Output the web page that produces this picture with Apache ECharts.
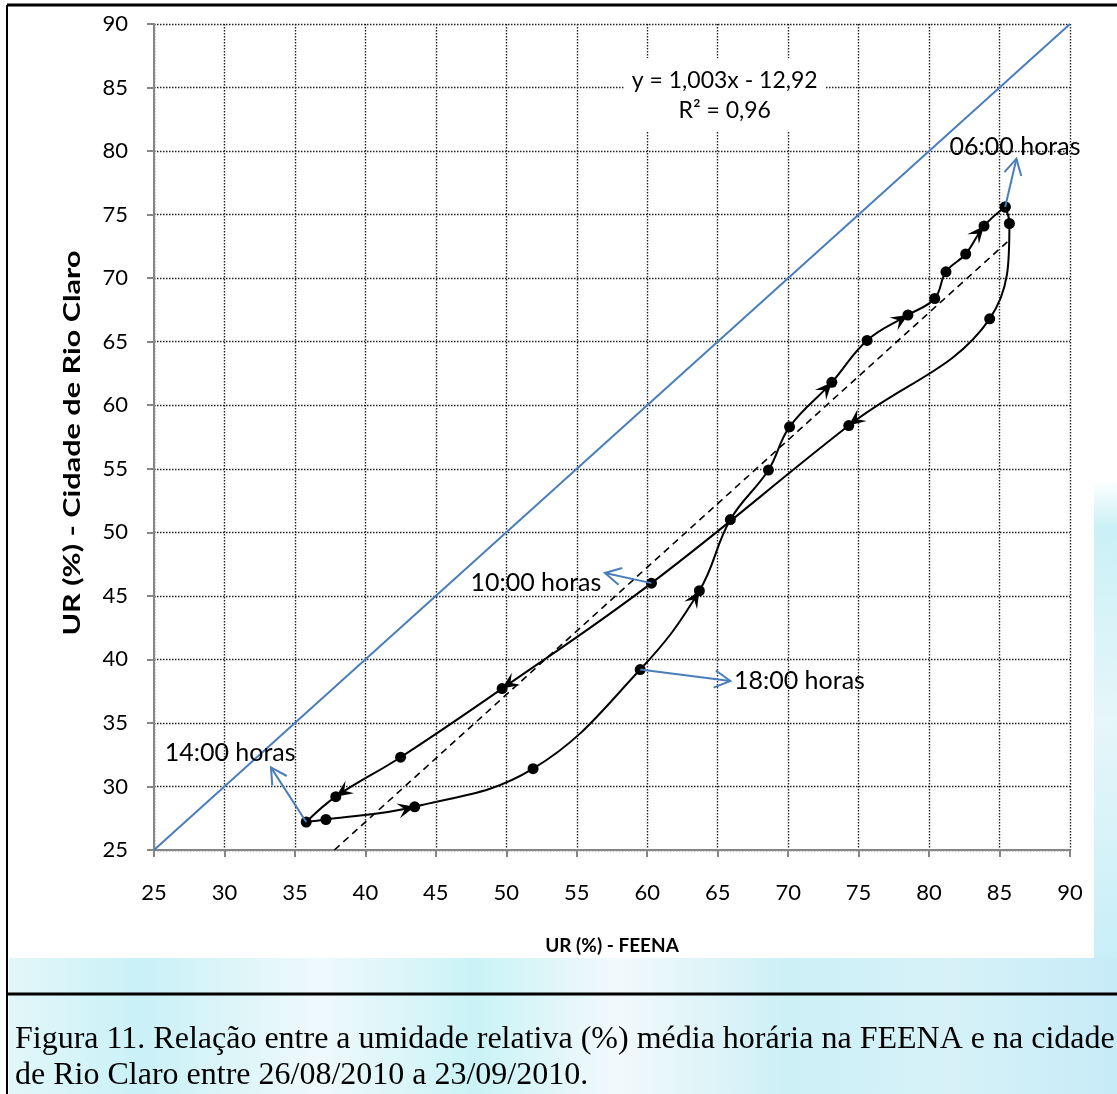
<!DOCTYPE html>
<html>
<head>
<meta charset="utf-8">
<script src="https://cdn.jsdelivr.net/npm/echarts@6/dist/echarts.min.js"></script>
<style>
  html, body { margin: 0; padding: 0; background: #fff; }
  #main { width: 1117px; height: 1094px; }
</style>
</head>
<body>
<div id="main"></div>
<script>
// medias horarias, comecando as 06:00
const hours = ['06:00', '07:00', '08:00', '09:00', '10:00', '11:00', '12:00', '13:00',
  '14:00', '15:00', '16:00', '17:00', '18:00', '19:00', '20:00', '21:00',
  '22:00', '23:00', '00:00', '01:00', '02:00', '03:00', '04:00', '05:00'];
const urFeena = [85.4, 85.7, 84.3, 74.3, 60.3, 49.7, 42.5, 37.9,
  35.8, 37.2, 43.5, 51.9, 59.5, 63.7, 65.9, 68.6,
  70.1, 73.1, 75.6, 78.5, 80.4, 81.2, 82.6, 83.9];
const urRioClaro = [75.6, 74.3, 66.8, 58.4, 46.0, 37.7, 32.3, 29.2,
  27.2, 27.4, 28.4, 31.4, 39.2, 45.4, 51.0, 54.9,
  58.3, 61.8, 65.1, 67.1, 68.4, 70.5, 71.9, 74.1];
// horas onde ha seta de sentido no traco
const arrowHours = ['09:00', '11:00', '13:00', '16:00', '19:00', '23:00', '01:00', '05:00'];
// linha 1:1 e linha de tendencia (y = 1,003x - 12,92)
const lineOneToOne = [[25, 25], [90, 90]];
const trendLine = [[37.8, 25.0], [85.8, 73.1]];
const trendText = 'y = 1,003x - 12,92\nR² = 0,96';
const axisMin = 25, axisMax = 90, axisStep = 5;

// rotulos das horas: posicao do texto e ponta da seta (coordenadas do grafico)
const notes = [
  { hour: '06:00', textX: 86.1, textY: 80.3, tipX: 86.2, tipY: 79.4 },
  { hour: '10:00', textX: 52.1, textY: 46.0, tipX: 57.0, tipY: 46.8 },
  { hour: '18:00', textX: 70.8, textY: 38.3, tipX: 65.9, tipY: 38.3 },
  { hour: '14:00', textX: 30.4, textY: 32.6, tipX: 33.3, tipY: 31.5 }
];

const blue = '#4a7ebb';
const font = 'Lato, "Open Sans", sans-serif';

let loopData = urFeena.map((x, i) => [x, urRioClaro[i]]);
loopData.push(loopData[0]); // fecha o ciclo

let chart = echarts.init(document.getElementById('main'));

function renderArrow(params, api) {
  let h = hours.indexOf(arrowHours[params.dataIndex]);
  let n = hours.length;
  let pa = api.coord([urFeena[(h - 1 + n) % n], urRioClaro[(h - 1 + n) % n]]);
  let pb = api.coord([urFeena[(h + 1) % n], urRioClaro[(h + 1) % n]]);
  let p = api.coord([urFeena[h], urRioClaro[h]]);
  let ang = Math.atan2(pb[1] - pa[1], pb[0] - pa[0]);
  let dx = Math.cos(ang), dy = Math.sin(ang);
  let L = 17, W = 7.5;
  let pts = [
    [p[0], p[1]],
    [p[0] - L * dx - W * dy, p[1] - L * dy + W * dx],
    [p[0] - 0.6 * L * dx, p[1] - 0.6 * L * dy],
    [p[0] - L * dx + W * dy, p[1] - L * dy - W * dx]
  ];
  return { type: 'polygon', shape: { points: pts }, style: { fill: '#000' } };
}

function renderNote(params, api) {
  let nt = notes[params.dataIndex];
  let h = hours.indexOf(nt.hour);
  let p0 = api.coord([urFeena[h], urRioClaro[h]]);
  let tip = api.coord([nt.tipX, nt.tipY]);
  let t = api.coord([nt.textX, nt.textY]);
  let ang = Math.atan2(tip[1] - p0[1], tip[0] - p0[0]);
  let L = 18, a = 0.5;
  let b1 = [tip[0] - L * Math.cos(ang - a), tip[1] - L * Math.sin(ang - a)];
  let b2 = [tip[0] - L * Math.cos(ang + a), tip[1] - L * Math.sin(ang + a)];
  return {
    type: 'group',
    children: [
      { type: 'line', shape: { x1: p0[0], y1: p0[1], x2: tip[0], y2: tip[1] }, style: { stroke: blue, lineWidth: 2 } },
      { type: 'polyline', shape: { points: [b1, tip, b2] }, style: { stroke: blue, lineWidth: 2, fill: null } },
      { type: 'text', x: t[0], y: t[1], style: { text: nt.hour + ' horas', font: '25px ' + font, fill: '#000', align: 'center', verticalAlign: 'middle' } }
    ]
  };
}

function renderTrendText(params, api) {
  let c = api.coord([65.5, 84.4]);
  return {
    type: 'group',
    children: [
      { type: 'rect', shape: { x: c[0] - 101, y: c[1] - 37, width: 202, height: 73 }, style: { fill: '#fff' } },
      { type: 'text', x: c[0], y: c[1], style: { text: trendText, font: '23px ' + font, lineHeight: 30, fill: '#000', align: 'center', verticalAlign: 'middle' } }
    ]
  };
}

let axisCommon = {
  type: 'value',
  min: axisMin,
  max: axisMax,
  interval: axisStep,
  nameLocation: 'middle',
  nameTextStyle: { fontFamily: font, fontWeight: 'bold', fontSize: 19, color: '#000' },
  axisLine: { show: true, onZero: false, lineStyle: { color: '#868686', width: 2 } },
  axisTick: { show: true, length: 7, lineStyle: { color: '#868686', width: 2 } },
  axisLabel: { fontFamily: font, fontSize: 22, color: '#000' },
  splitLine: { show: true, lineStyle: { color: '#222', width: 1.4, type: [1.5, 1.5] } }
};

chart.setOption({
  animation: false,
  backgroundColor: '#fff',
  grid: { left: 154, right: 47, top: 24, bottom: 244 },
  xAxis: Object.assign({}, axisCommon, {
    name: 'UR (%) - FEENA', nameGap: 86,
    axisLabel: Object.assign({}, axisCommon.axisLabel, { margin: 32 })
  }),
  yAxis: Object.assign({}, axisCommon, {
    axisLabel: Object.assign({}, axisCommon.axisLabel, { margin: 26 })
  }),
  graphic: [
    { type: 'rect', z: -10, shape: { x: 9, y: 958, width: 1108, height: 136 },
      style: { fill: new echarts.graphic.LinearGradient(0, 0, 1, 0, [
        { offset: 0, color: '#e2f7fa' }, { offset: 0.12, color: '#c9f1f7' },
        { offset: 0.28, color: '#eff9fb' }, { offset: 0.42, color: '#caf3f7' },
        { offset: 0.55, color: '#f2f9fb' }, { offset: 0.7, color: '#cdf0f7' },
        { offset: 0.85, color: '#d6f2f8' }, { offset: 1, color: '#c7ebf8' }]) } },
    { type: 'rect', z: -10, shape: { x: 1094, y: 480, width: 23, height: 478 },
      style: { fill: new echarts.graphic.LinearGradient(0, 0, 0, 1, [
        { offset: 0, color: '#ffffff' }, { offset: 0.1, color: '#caf1f7' },
        { offset: 0.5, color: '#e6f6fa' }, { offset: 1, color: '#c8eff8' }]) } },
    { type: 'line', shape: { x1: 7, y1: 5, x2: 1117, y2: 5 }, style: { stroke: '#000', lineWidth: 3 } },
    { type: 'line', shape: { x1: 7, y1: 5, x2: 7, y2: 1094 }, style: { stroke: '#000', lineWidth: 2 } },
    { type: 'line', shape: { x1: 7, y1: 994, x2: 1117, y2: 994 }, style: { stroke: '#000', lineWidth: 3 } },
    // titulo do eixo y (esticado como no original)
    { type: 'text', x: 73, y: 443, rotation: Math.PI / 2, scaleX: 1.33,
      style: { text: 'UR (%) - Cidade de Rio Claro', font: 'bold 23px ' + font, fill: '#000',
        align: 'center', verticalAlign: 'middle' } },
    { type: 'text', left: 15, top: 1022,
      style: { text: 'Figura 11. Relação entre a umidade relativa (%) média horária na FEENA e na cidade\nde Rio Claro entre 26/08/2010 a 23/09/2010.',
        font: '32px "Liberation Serif", "Times New Roman", serif', lineHeight: 36, fill: '#000' } }
  ],
  series: [
    {
      type: 'line', data: lineOneToOne, symbol: 'none', z: 2,
      lineStyle: { color: blue, width: 2 }
    },
    {
      type: 'line', data: trendLine, symbol: 'none', z: 3,
      lineStyle: { color: '#000', width: 1.6, type: [7, 5] }
    },
    {
      type: 'line', data: loopData, smooth: 0.4, z: 4,
      symbol: 'circle', symbolSize: 11, showAllSymbol: true,
      itemStyle: { color: '#000' },
      lineStyle: { color: '#000', width: 2 }
    },
    {
      type: 'custom', z: 5, renderItem: renderArrow,
      data: arrowHours.map(hh => { let i = hours.indexOf(hh); return [urFeena[i], urRioClaro[i]]; })
    },
    {
      type: 'custom', z: 6, renderItem: renderTrendText, data: [[65.5, 84.4]]
    },
    {
      type: 'custom', z: 7, renderItem: renderNote,
      data: notes.map(nt => [nt.textX, nt.textY])
    }
  ]
});
</script>
</body>
</html>
